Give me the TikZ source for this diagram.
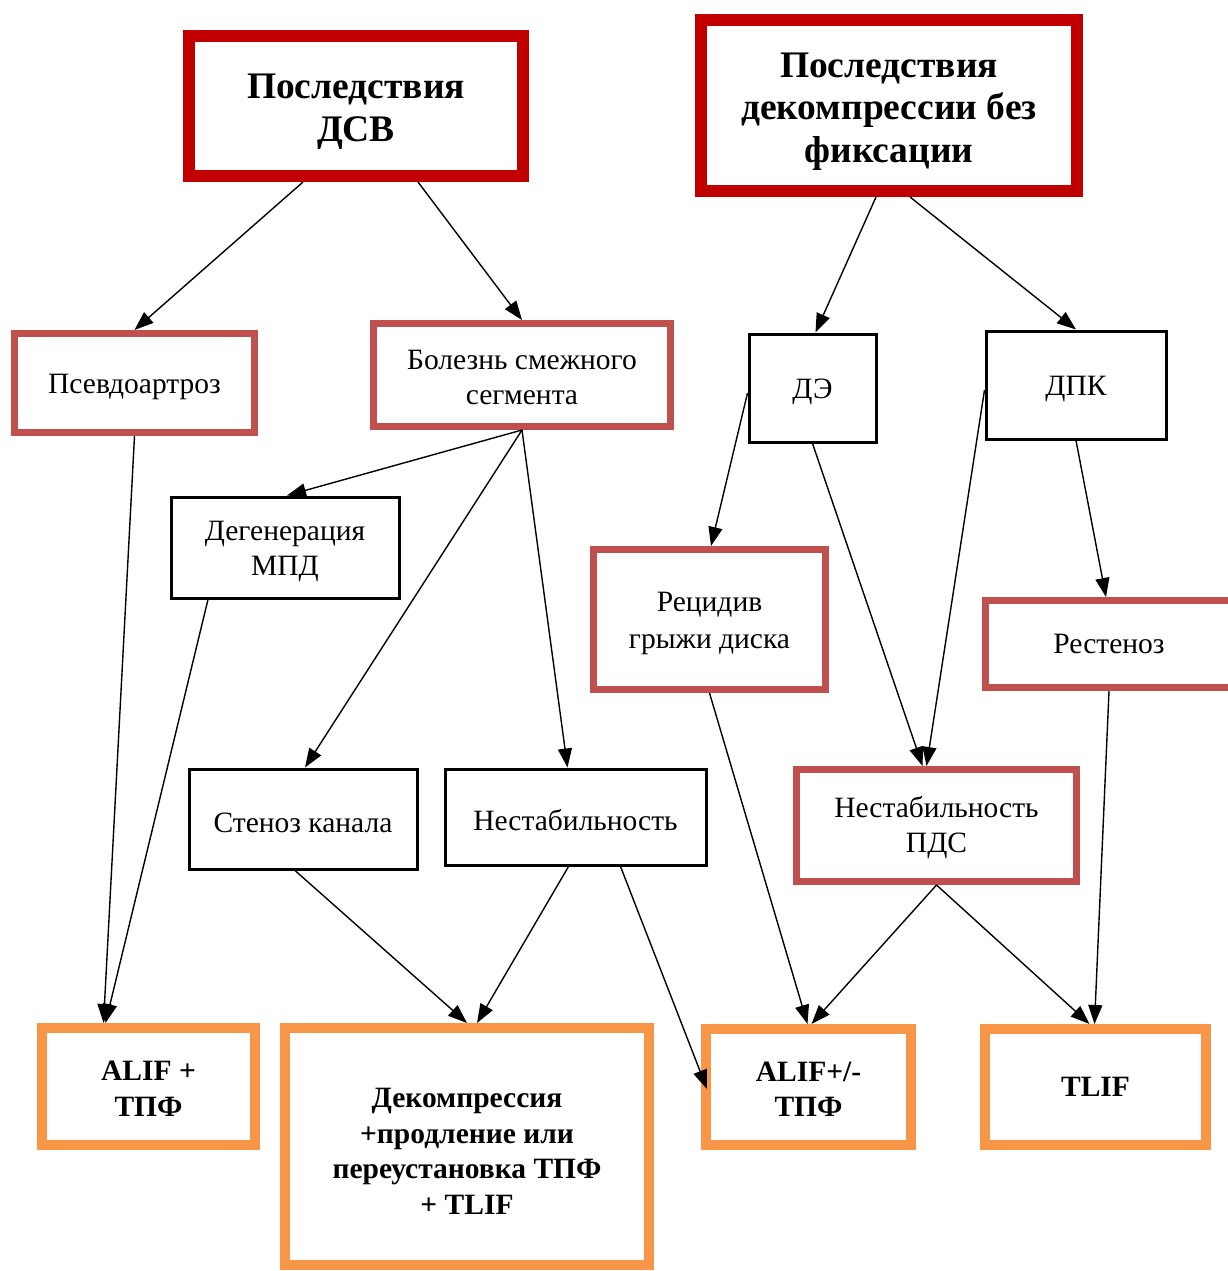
\documentclass[tikz,border=0pt]{standalone}
\usepackage{fontspec}
\setmainfont{Liberation Serif}
\usetikzlibrary{arrows.meta,calc}
\definecolor{darkred}{HTML}{C00000}
\definecolor{midred}{HTML}{C0504D}
\definecolor{orangeb}{HTML}{F79646}
\newcommand\upstrut[1]{\rule{0pt}{#1pt}}
\begin{document}
\begin{tikzpicture}[x=1pt,y=-1pt,
  box/.style={draw, rectangle, inner sep=0pt, align=center, fill=white},
  oneline/.style={execute at begin node={\rule{0pt}{0.9em}}},
  titlebox/.style={box, draw=darkred, line width=12pt, font=\fontsize{37.5}{42.5}\selectfont\bfseries},
  redbox/.style={box, draw=midred, line width=7pt, font=\fontsize{29.5}{35}\selectfont},
  blackbox/.style={box, draw=black, line width=3pt, font=\fontsize{29.5}{35}\selectfont},
  orbox/.style={box, draw=orangeb, line width=10pt, font=\fontsize{29.5}{35.5}\selectfont\bfseries},
  arr/.style={line width=1.4pt, -{Triangle[length=19pt,width=14pt]}}]
\useasboundingbox (0,0) rectangle (1227,1271);
\fill[white] (0,0) rectangle (1227,1271);

\node[titlebox, minimum width=334pt, minimum height=140pt] (t1) at (356,106) {\upstrut{36}Последствия\\ДСВ};
\node[titlebox, minimum width=376pt, minimum height=171pt] (t2) at (889,105.5) {\upstrut{36}Последствия\\декомпрессии без\\фиксации};

\node[redbox, oneline, minimum width=240pt, minimum height=99pt] (pseudo) at (134.5,383) {Псевдоартроз};
\node[redbox, minimum width=297pt, minimum height=103pt] (bol) at (522,375) {\upstrut{25}Болезнь смежного\\сегмента};
\node[blackbox, oneline, minimum width=127pt, minimum height=108pt] (de) at (812.5,388) {ДЭ};
\node[blackbox, oneline, minimum width=180pt, minimum height=108pt] (dpk) at (1076,385) {ДПК};
\node[blackbox, minimum width=228pt, minimum height=101pt] (deg) at (285,547.5) {\upstrut{27.5}Дегенерация\\МПД};
\node[redbox, minimum width=232pt, minimum height=140pt] (rec) at (709.5,619.5) {\upstrut{27.5}Рецидив\\[2pt]грыжи диска};
\node[redbox, minimum width=247pt, minimum height=87pt] (rest) at (1109,644) {Рестеноз};
\node[blackbox, oneline, minimum width=228pt, minimum height=100pt] (sten) at (303,819) {Стеноз канала};
\node[blackbox, oneline, minimum width=261pt, minimum height=96pt] (nest) at (575.5,817) {Нестабильность};
\node[redbox, minimum width=280pt, minimum height=112pt] (npds) at (936.5,825.5) {\upstrut{26}Нестабильность\\ПДС};

\node[orbox, minimum width=213pt, minimum height=117pt] (alif1) at (148.5,1086.5) {\upstrut{23.5}ALIF +\\ТПФ};
\node[orbox, minimum width=364pt, minimum height=237pt] (dec) at (467,1146.5) {\upstrut{28.5}Декомпрессия\\+продление или\\переустановка ТПФ\\+ TLIF};
\node[orbox, minimum width=205pt, minimum height=116pt] (alif2) at (808.5,1087) {\upstrut{24}ALIF+/-\\ТПФ};
\node[orbox, minimum width=221pt, minimum height=116pt] (tlif) at (1095.5,1087) {TLIF};

\draw[arr] ([xshift=-53pt]t1.south) -- (pseudo.north);
\draw[arr] ([xshift=62pt]t1.south) -- (bol.north);
\draw[arr] ([xshift=-13pt]t2.south) -- ([xshift=3pt]de.north);
\draw[arr] ([xshift=21pt]t2.south) -- (dpk.north);
\draw[arr] (pseudo.south) -- ([xshift=-45pt]alif1.north);
\draw[arr] (bol.south) -- ([xshift=2pt]deg.north);
\draw[arr] (bol.south) -- ([xshift=2pt]sten.north);
\draw[arr] (bol.south) -- ([xshift=-8pt]nest.north);
\draw[arr] ([xshift=-77pt]deg.south) -- ([xshift=-43pt]alif1.north);
\draw[arr] ([yshift=-5pt]de.west) -- ([xshift=1.5pt]rec.north);
\draw[arr] (de.south) -- ([xshift=-14pt]npds.north);
\draw[arr] ([yshift=-5pt]dpk.west) -- ([xshift=-10pt]npds.north);
\draw[arr] (dpk.south) -- ([xshift=-3pt]rest.north);
\draw[arr] (rec.south) -- ([xshift=-1pt]alif2.north);
\draw[arr] ([xshift=-8pt]sten.south) -- (dec.north);
\draw[arr] ([xshift=-7pt]nest.south) -- ([xshift=10pt]dec.north);
\draw[arr] ([xshift=45pt]nest.south) -- ([xshift=6pt,yshift=-2pt]alif2.west);
\draw[arr] (npds.south) -- ([xshift=3pt]alif2.north);
\draw[arr] (npds.south) -- ([xshift=-6pt]tlif.north);
\draw[arr] (rest.south) -- ([xshift=-1pt]tlif.north);
\end{tikzpicture}
\end{document}
